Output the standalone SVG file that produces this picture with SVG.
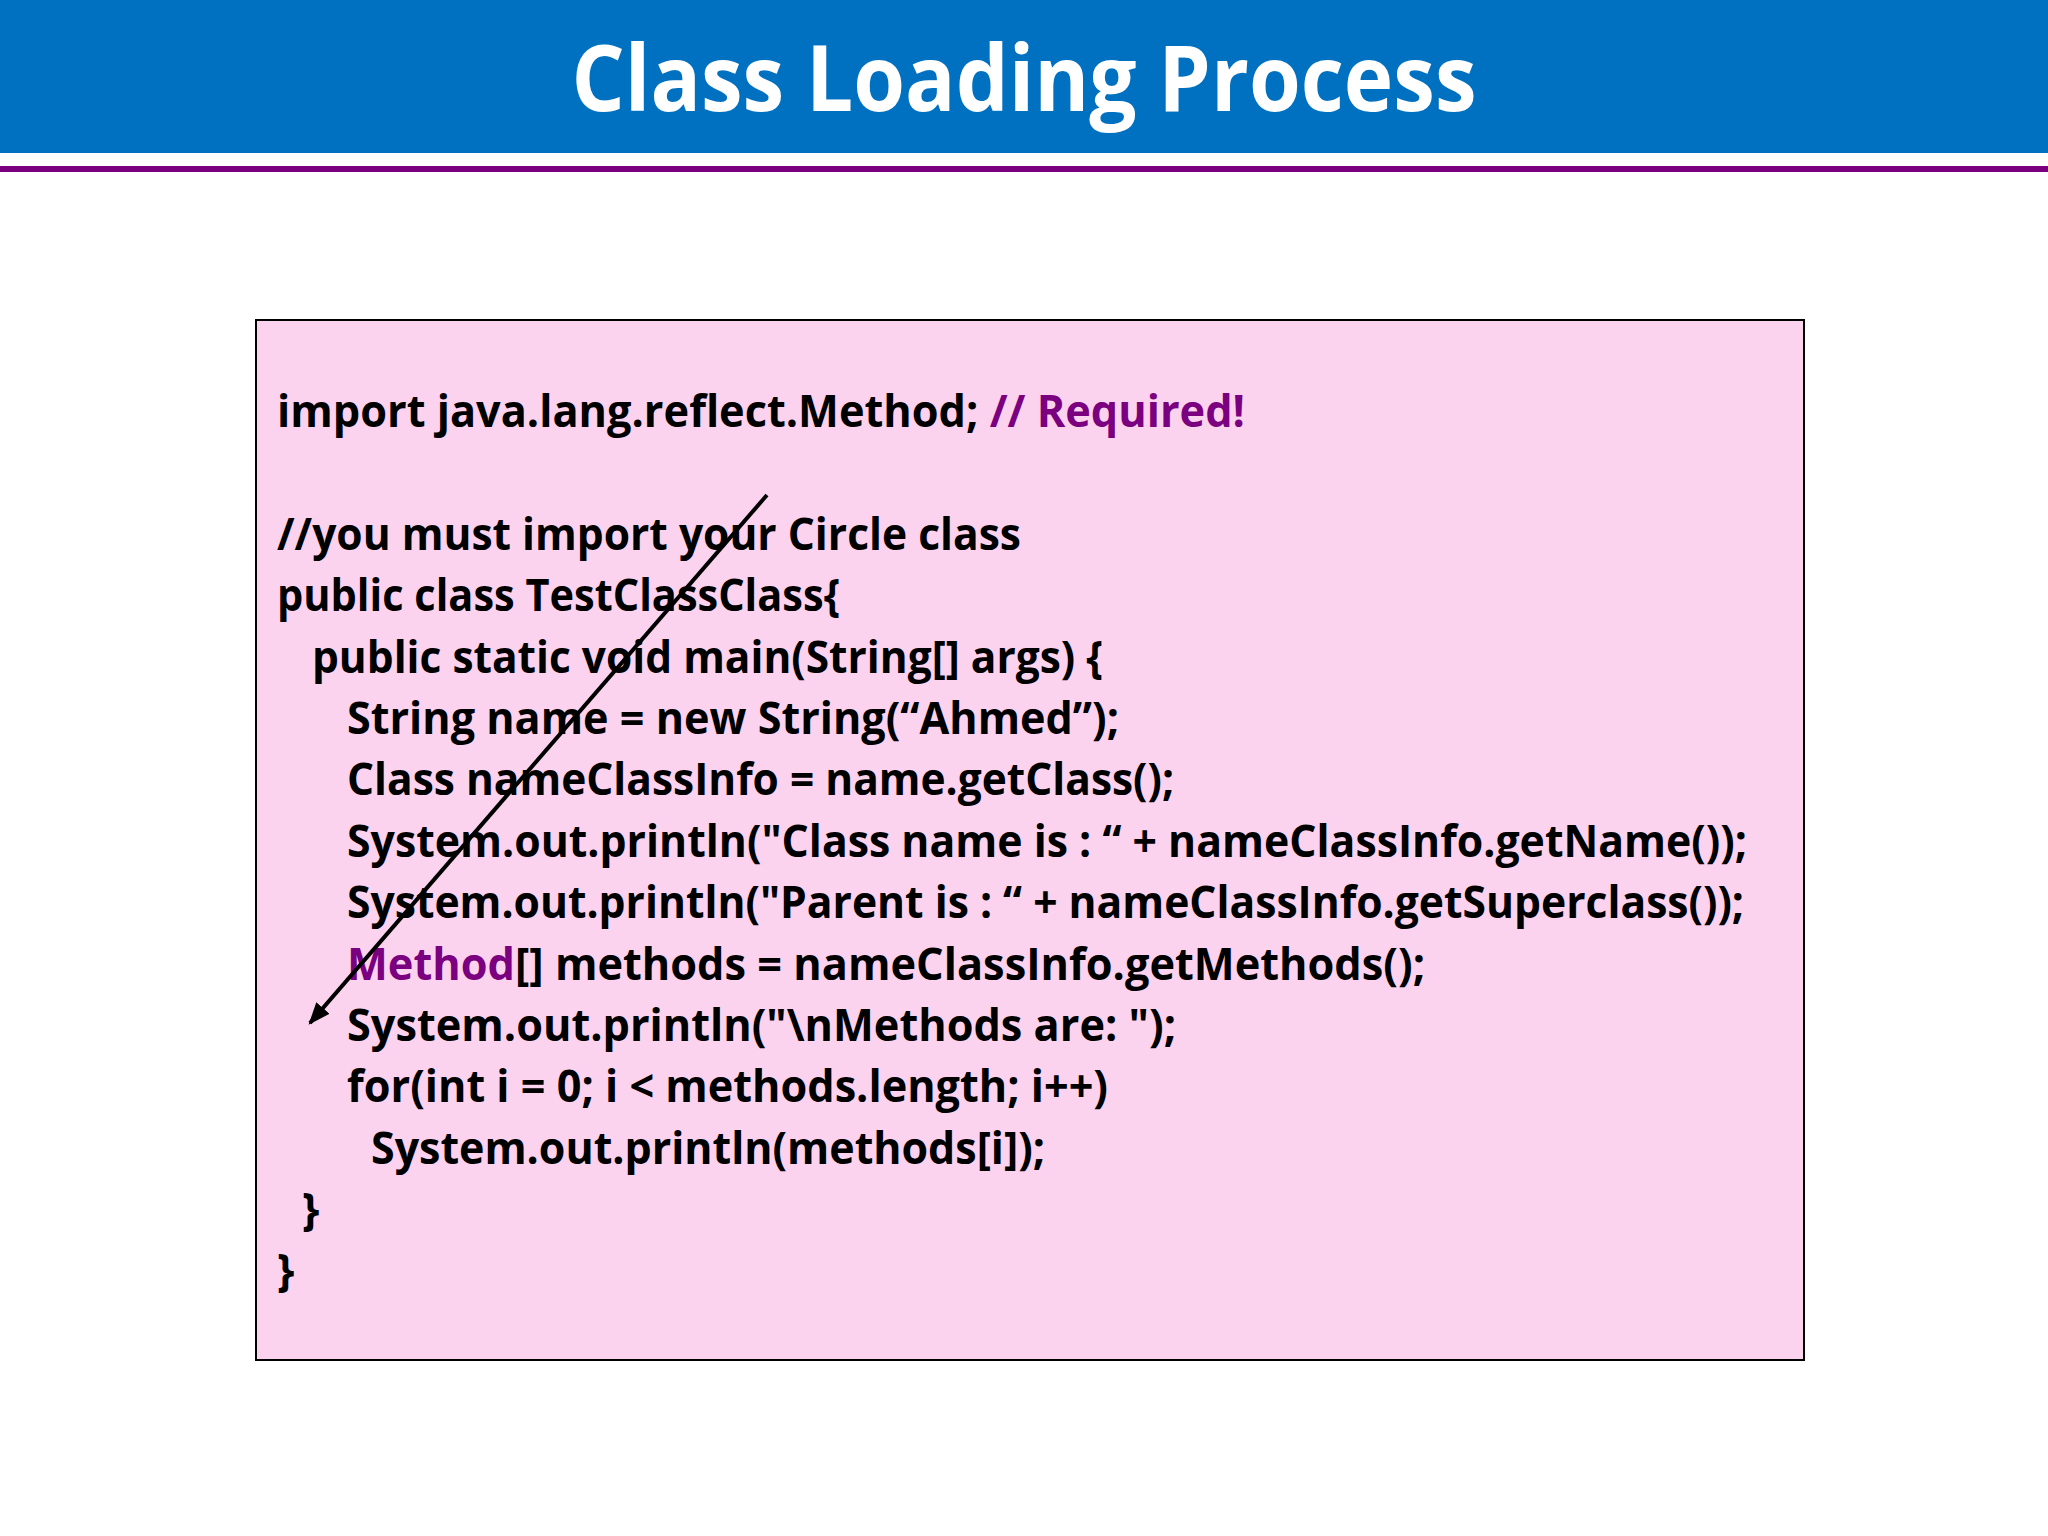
<svg xmlns="http://www.w3.org/2000/svg" width="2048" height="1536" viewBox="0 0 2048 1536">
<style>
.c{font-family:"Open Sans","Liberation Sans",sans-serif;font-weight:bold;font-size:44px;fill:#000}
.p{fill:#7a0080}
</style>
<defs><marker id="ah" markerWidth="10" markerHeight="10" refX="9" refY="5" orient="auto" markerUnits="userSpaceOnUse" viewBox="0 0 10 10"><path d="M0,0 L10,5 L0,10 z" fill="#000"/></marker>
<marker id="a" viewBox="0 0 20 20" refX="18" refY="10" markerWidth="22" markerHeight="22" markerUnits="userSpaceOnUse" orient="auto"><path d="M0,2 L20,10 L0,18 z" fill="#000"/></marker></defs>
<rect width="2048" height="1536" fill="#fff"/>
<g id="header">
<rect x="0" y="0" width="2048" height="153" fill="#0070c0"/>
<text x="1024" y="111" text-anchor="middle" textLength="905" lengthAdjust="spacingAndGlyphs" font-family="Open Sans, Liberation Sans, sans-serif" font-weight="bold" font-size="92" fill="#fff">Class Loading Process</text>
<rect x="0" y="166" width="2048" height="6" fill="#7a0080"/>
</g>
<g id="code">
<rect x="256" y="320" width="1548" height="1040" fill="#fcd3ee" stroke="#000" stroke-width="2"/>
<text class="c" x="277" y="427" textLength="968" lengthAdjust="spacingAndGlyphs">import java.lang.reflect.Method; <tspan class="p">// Required!</tspan></text>
<text class="c" x="277" y="550" textLength="744" lengthAdjust="spacingAndGlyphs">//you must import your Circle class</text>
<text class="c" x="277" y="611" textLength="563" lengthAdjust="spacingAndGlyphs">public class TestClassClass{</text>
<text class="c" x="312" y="673" textLength="791" lengthAdjust="spacingAndGlyphs">public static void main(String[] args) {</text>
<text class="c" x="347" y="734" textLength="772" lengthAdjust="spacingAndGlyphs">String name = new String(“Ahmed”);</text>
<text class="c" x="347" y="795" textLength="827" lengthAdjust="spacingAndGlyphs">Class nameClassInfo = name.getClass();</text>
<text class="c" x="347" y="857" textLength="1400" lengthAdjust="spacingAndGlyphs">System.out.println("Class name is : “ + nameClassInfo.getName());</text>
<text class="c" x="347" y="918" textLength="1397" lengthAdjust="spacingAndGlyphs">System.out.println("Parent is : “ + nameClassInfo.getSuperclass());</text>
<text class="c" x="347" y="980" textLength="1078" lengthAdjust="spacingAndGlyphs"><tspan class="p">Method</tspan>[] methods = nameClassInfo.getMethods();</text>
<text class="c" x="347" y="1041" textLength="829" lengthAdjust="spacingAndGlyphs">System.out.println("\nMethods are: ");</text>
<text class="c" x="347" y="1102" textLength="761" lengthAdjust="spacingAndGlyphs">for(int i = 0; i &lt; methods.length; i++)</text>
<text class="c" x="371" y="1164" textLength="674" lengthAdjust="spacingAndGlyphs">System.out.println(methods[i]);</text>
<text class="c" x="302" y="1225">}</text>
<text class="c" x="277" y="1286">}</text>
</g>
<g id="connectors">
<line x1="767" y1="495" x2="310" y2="1023" stroke="#000" stroke-width="4" marker-end="url(#a)"/>
</g>
</svg>
